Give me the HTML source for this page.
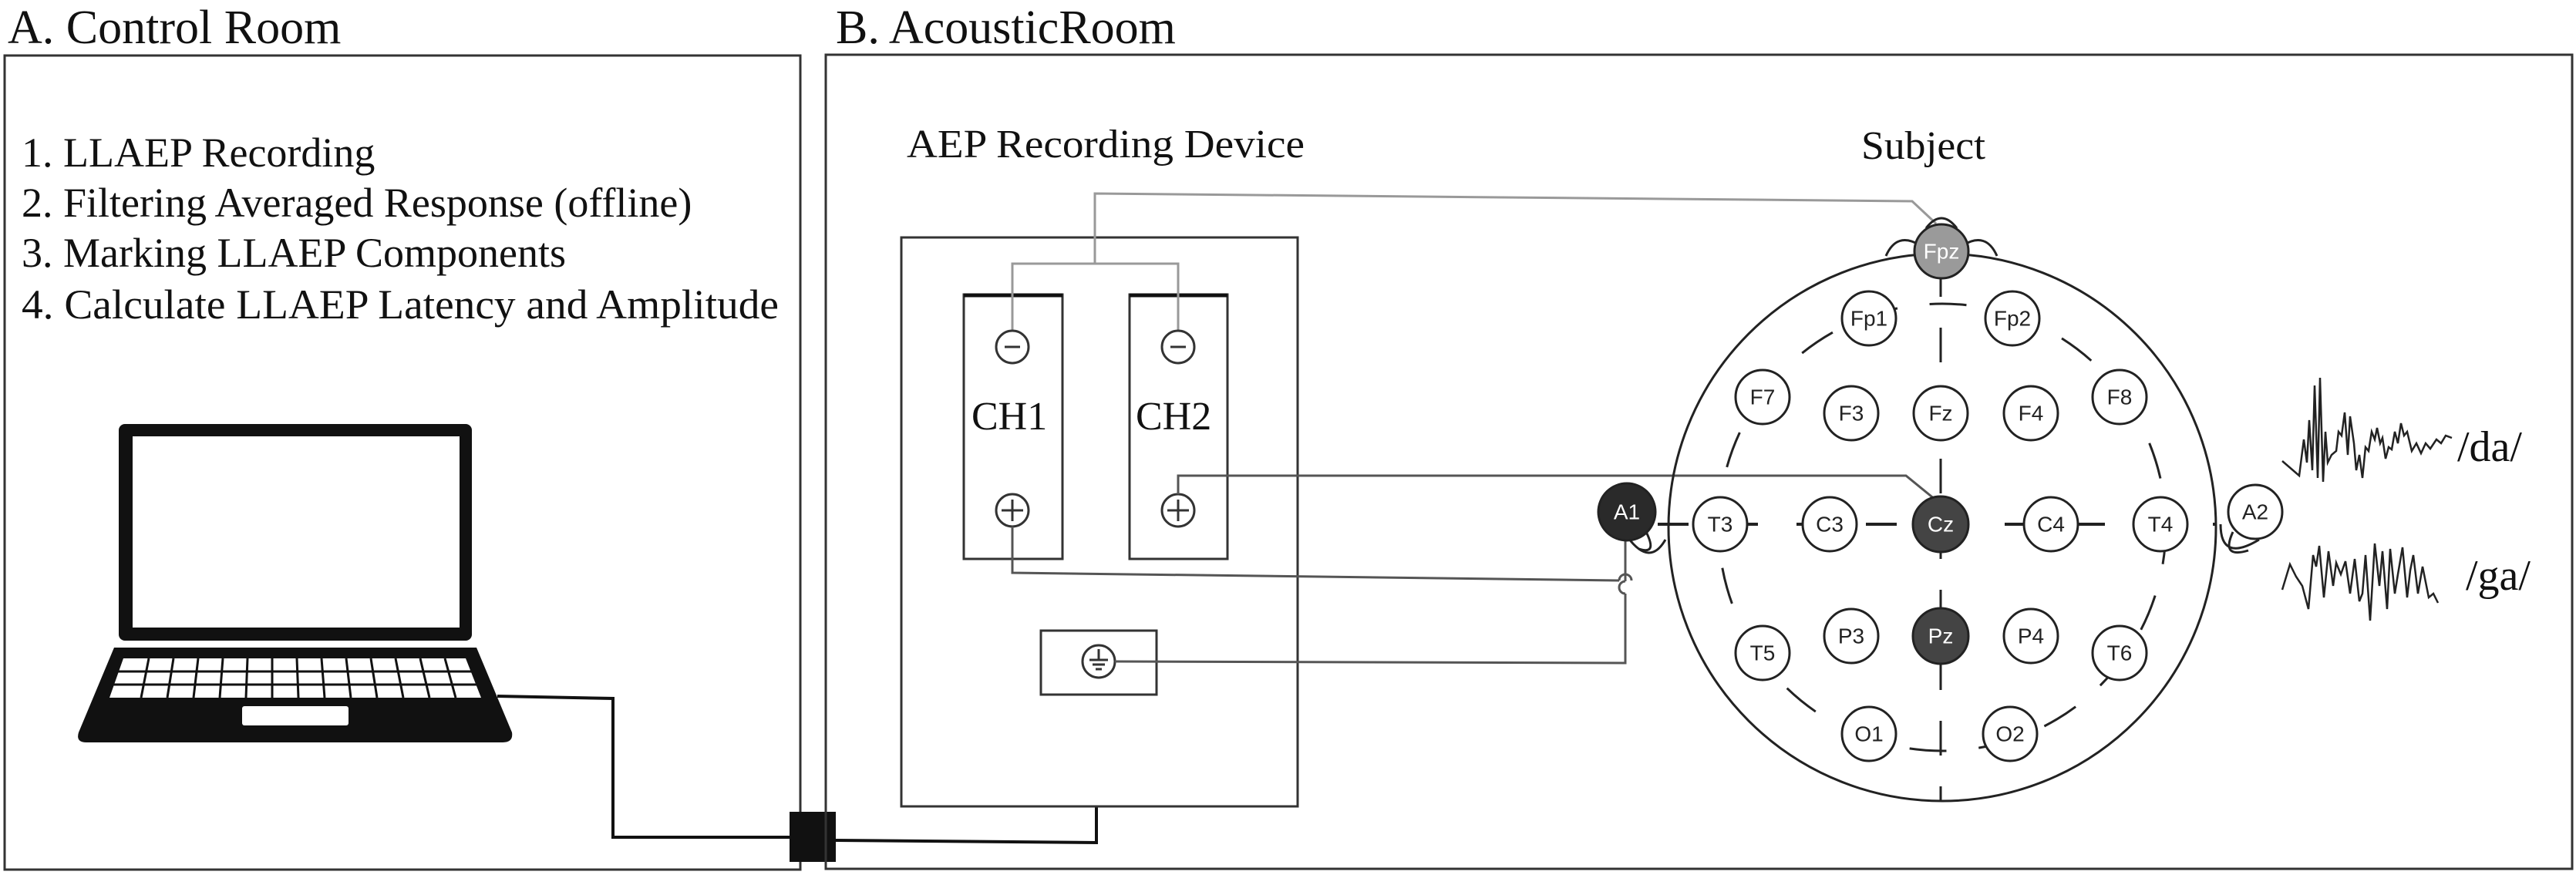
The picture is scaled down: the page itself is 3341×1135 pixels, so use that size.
<!DOCTYPE html>
<html><head><meta charset="utf-8"><style>
html,body{margin:0;padding:0;background:#fff;}
svg{display:block;}
.t{font-family:"Liberation Serif",serif;fill:#111;}
.e{font-family:"Liberation Sans",sans-serif;font-size:28px;text-anchor:middle;dominant-baseline:central;}
</style></head><body>
<svg width="3341" height="1135" viewBox="0 0 3341 1135" xmlns="http://www.w3.org/2000/svg">
<rect width="3341" height="1135" fill="#fff"/>
<!-- Panel A -->
<text class="t" x="10" y="56" font-size="62">A. Control Room</text>
<rect x="6" y="72" width="1032" height="1056" fill="none" stroke="#333" stroke-width="3"/>
<g class="t" font-size="54">
<text x="28" y="216">1. LLAEP Recording</text>
<text x="28" y="281">2. Filtering Averaged Response (offline)</text>
<text x="28" y="346">3. Marking LLAEP Components</text>
<text x="28" y="413" textLength="982" lengthAdjust="spacingAndGlyphs">4. Calculate LLAEP Latency and Amplitude</text>
</g>
<!-- Laptop -->
<rect x="154" y="550" width="458" height="281" rx="8" fill="#111"/>
<rect x="172" y="566" width="424" height="248" fill="#fff"/>
<path d="M148 840 L618 840 L664 950 Q666 963 652 963 L112 963 Q98 963 102 950 Z" fill="#111"/>
<path d="M160 854 L604 854 L624 905 L142 905 Z" fill="#fff"/>
<g stroke="#111" stroke-width="3">
<line x1="150" y1="871" x2="618" y2="871"/>
<line x1="146" y1="888" x2="622" y2="888"/>
<line x1="193" y1="854" x2="183" y2="905"/><line x1="225" y1="854" x2="217" y2="905"/>
<line x1="257" y1="854" x2="251" y2="905"/><line x1="289" y1="854" x2="285" y2="905"/>
<line x1="321" y1="854" x2="319" y2="905"/><line x1="353" y1="854" x2="353" y2="905"/>
<line x1="385" y1="854" x2="387" y2="905"/><line x1="417" y1="854" x2="421" y2="905"/>
<line x1="449" y1="854" x2="455" y2="905"/><line x1="481" y1="854" x2="489" y2="905"/>
<line x1="513" y1="854" x2="523" y2="905"/><line x1="545" y1="854" x2="557" y2="905"/>
<line x1="577" y1="854" x2="591" y2="905"/>
</g>
<rect x="314" y="916" width="138" height="25" rx="3" fill="#fff"/>
<!-- cable -->
<polyline points="645,903 795,906 795,1086 1024,1086" fill="none" stroke="#111" stroke-width="4"/>
<rect x="1024" y="1053" width="60" height="65" fill="#111"/>
<polyline points="1084,1090 1422,1093 1422,1046" fill="none" stroke="#111" stroke-width="4"/>
<!-- Panel B -->
<text class="t" x="1084" y="56" font-size="62">B. AcousticRoom</text>
<rect x="1071" y="71" width="2265" height="1056" fill="none" stroke="#333" stroke-width="3"/>
<text class="t" x="1176" y="204" font-size="52" textLength="516" lengthAdjust="spacingAndGlyphs">AEP Recording Device</text>
<text class="t" x="2414" y="206" font-size="52" textLength="161" lengthAdjust="spacingAndGlyphs">Subject</text>
<!-- device -->
<rect x="1169" y="308" width="514" height="738" fill="none" stroke="#333" stroke-width="3"/>
<rect x="1250" y="382" width="128" height="343" fill="none" stroke="#333" stroke-width="3"/>
<rect x="1465" y="382" width="127" height="343" fill="none" stroke="#333" stroke-width="3"/>
<line x1="1250" y1="383" x2="1378" y2="383" stroke="#111" stroke-width="5"/>
<line x1="1465" y1="383" x2="1592" y2="383" stroke="#111" stroke-width="5"/>
<text class="t" x="1260" y="557" font-size="52">CH1</text>
<text class="t" x="1473" y="557" font-size="52">CH2</text>
<g fill="none" stroke="#999" stroke-width="3">
<polyline points="1313,429 1313,342 1528,342 1528,429"/>
<polyline points="1420,342 1420,251 2480,261 2511,290"/>
</g>
<g fill="#fff" stroke="#333" stroke-width="3">
<circle cx="1313" cy="450" r="21"/><circle cx="1528" cy="450" r="21"/>
<circle cx="1313" cy="662" r="21"/><circle cx="1528" cy="662" r="21"/>
</g>
<g stroke="#333" stroke-width="3">
<line x1="1303" y1="450" x2="1323" y2="450"/><line x1="1518" y1="450" x2="1538" y2="450"/>
<line x1="1299" y1="662" x2="1327" y2="662"/><line x1="1313" y1="648" x2="1313" y2="676"/>
<line x1="1514" y1="662" x2="1542" y2="662"/><line x1="1528" y1="648" x2="1528" y2="676"/>
</g>
<rect x="1350" y="818" width="150" height="83" fill="none" stroke="#333" stroke-width="3"/>
<circle cx="1425" cy="858" r="21" fill="#fff" stroke="#333" stroke-width="3"/>
<g stroke="#333" stroke-width="3"><line x1="1425" y1="842" x2="1425" y2="856"/><line x1="1413" y1="856" x2="1437" y2="856"/><line x1="1417" y1="862" x2="1433" y2="862"/><line x1="1421" y1="868" x2="1429" y2="868"/></g>
<g fill="none" stroke="#555" stroke-width="3">
<polyline points="1528,641 1528,617 2472,617 2510,648"/>
<polyline points="1313,683 1313,743 2100,753 M2116,753 L2464,756 2505,789"/>
<path d="M2100,753 A8,8 0 0 1 2116,753"/>
<polyline points="1446,858 2108,860 2108,770"/>
<path d="M2108,770 A8,8 0 0 1 2108,754" />
<line x1="2108" y1="754" x2="2108" y2="700"/>
</g>
<circle cx="2519" cy="684" r="355" fill="none" stroke="#222" stroke-width="3"/>
<circle cx="2519" cy="684" r="290" fill="none" stroke="#222" stroke-width="3" stroke-dasharray="48 42"/>
<line x1="2517" y1="340" x2="2517" y2="1039" stroke="#222" stroke-width="3" stroke-dasharray="45 40"/>
<line x1="2150" y1="680" x2="2874" y2="680" stroke="#222" stroke-width="4" stroke-dasharray="40 50"/>
<g fill="none" stroke="#222" stroke-width="3">
<path d="M2446 332 Q2460 300 2490 318"/><path d="M2546 318 Q2576 300 2590 332"/>
<path d="M2498 296 Q2518 270 2538 296"/>
<path d="M2135 690 Q2150 720 2126 712"/><path d="M2112 698 Q2140 735 2160 700"/>
<path d="M2896 690 Q2880 725 2916 714"/><path d="M2880 680 Q2880 730 2930 700"/>
</g>
<g stroke="#222" stroke-width="3" fill="#fff">
<circle cx="2424" cy="413" r="35"/><circle cx="2610" cy="413" r="35"/>
<circle cx="2286" cy="515" r="35"/><circle cx="2401" cy="536" r="35"/><circle cx="2517" cy="536" r="35"/><circle cx="2634" cy="536" r="35"/><circle cx="2749" cy="515" r="35"/>
<circle cx="2231" cy="680" r="35"/><circle cx="2373" cy="680" r="35"/><circle cx="2660" cy="680" r="35"/><circle cx="2802" cy="680" r="35"/>
<circle cx="2286" cy="847" r="35"/><circle cx="2401" cy="825" r="35"/><circle cx="2634" cy="825" r="35"/><circle cx="2749" cy="847" r="35"/>
<circle cx="2424" cy="952" r="35"/><circle cx="2607" cy="952" r="35"/>
<circle cx="2925" cy="664" r="35"/>
<circle cx="2518" cy="326" r="35" fill="#9a9a9a"/>
<circle cx="2517" cy="680" r="36" fill="#444"/>
<circle cx="2517" cy="825" r="36" fill="#444"/>
<circle cx="2110" cy="664" r="37" fill="#2a2a2a"/>
</g>
<g class="e" fill="#222">
<text x="2424" y="413">Fp1</text><text x="2610" y="413">Fp2</text>
<text x="2286" y="515">F7</text><text x="2401" y="536">F3</text><text x="2517" y="536">Fz</text><text x="2634" y="536">F4</text><text x="2749" y="515">F8</text>
<text x="2231" y="680">T3</text><text x="2373" y="680">C3</text><text x="2660" y="680">C4</text><text x="2802" y="680">T4</text>
<text x="2286" y="847">T5</text><text x="2401" y="825">P3</text><text x="2634" y="825">P4</text><text x="2749" y="847">T6</text>
<text x="2424" y="952">O1</text><text x="2607" y="952">O2</text>
<text x="2925" y="664">A2</text>
</g>
<g class="e" fill="#fff">
<text x="2518" y="326">Fpz</text><text x="2517" y="680">Cz</text><text x="2517" y="825">Pz</text><text x="2110" y="664">A1</text>
</g>
<polyline fill="none" stroke="#222" stroke-width="2.5" points="2960,598 2982,617 2988,570 2992,600 2995,545 2999,610 3002,500 3006,620 3009,490 3013,625 3016,560 3019,600 3024,590 3030,585 3033,560 3037,565 3041,535 3045,590 3048,540 3053,575 3056,610 3060,590 3064,620 3068,580 3072,585 3076,560 3080,570 3083,555 3087,575 3090,568 3094,595 3098,580 3102,583 3106,560 3110,575 3114,549 3118,565 3122,560 3128,585 3134,575 3140,588 3146,575 3152,582 3160,570 3166,575 3172,565 3180,568"/>
<polyline fill="none" stroke="#222" stroke-width="2.5" points="2960,765 2970,732 2978,748 2986,760 2994,790 3000,720 3004,735 3008,708 3014,775 3020,715 3026,760 3030,730 3036,745 3042,728 3048,770 3054,725 3060,780 3064,770 3068,720 3074,805 3080,705 3086,760 3090,715 3096,790 3100,712 3106,770 3110,745 3116,710 3122,775 3126,740 3130,720 3136,770 3142,735 3150,775 3156,770 3162,782"/>
<text class="t" x="3187" y="598" font-size="56">/da/</text>
<text class="t" x="3198" y="765" font-size="56">/ga/</text>
</svg>
</body></html>
